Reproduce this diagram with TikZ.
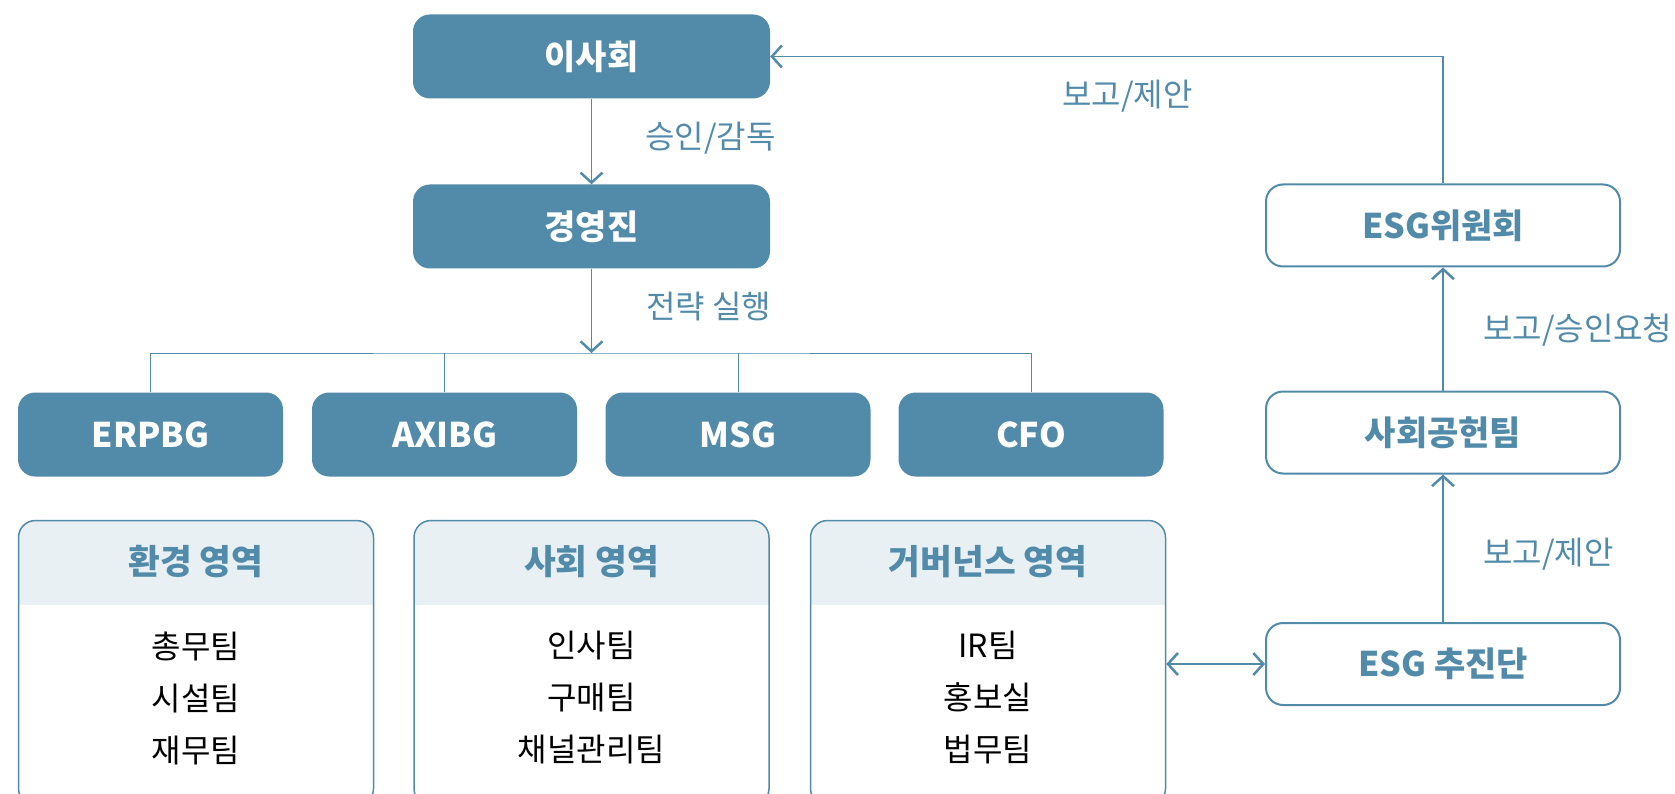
\documentclass[tikz,border=0pt]{standalone}
\usepackage{fontspec}
\setmainfont{Noto Sans CJK KR}
\usetikzlibrary{arrows.meta}
\definecolor{esgblue}{HTML}{528BAA}
\definecolor{esghead}{HTML}{E8F0F4}

\begin{document}
\begin{tikzpicture}[x=1pt, y=-1pt,
    darkbox/.style={rectangle, rounded corners=17pt, fill=esgblue, text=white,
        font=\fontsize{34}{40}\selectfont\bfseries, minimum height=84pt},
    lightbox/.style={rectangle, rounded corners=17pt, draw=esgblue, line width=2pt,
        fill=white, text=esgblue, font=\fontsize{34}{40}\selectfont\bfseries,
        minimum width=354pt, minimum height=82pt},
    areabox/.style={rectangle, rounded corners=17pt, draw=esgblue, line width=1.5pt,
        minimum width=355pt, minimum height=285pt,
        path picture={\fill[esghead, sharp corners] (path picture bounding box.north west)
            rectangle ([yshift=-84pt]path picture bounding box.north east);}},
    areahead/.style={text=esgblue, font=\fontsize{34.5}{40}\selectfont\bfseries},
    teamlist/.style={align=center, font=\fontsize{32}{52}\selectfont},
    flowlabel/.style={anchor=west, inner sep=0pt, text=esgblue,
        font=\fontsize{32}{38}\selectfont},
    line/.style={draw=esgblue, line width=1.5pt},
    >={Straight Barb[length=10pt, width=22pt, line width=2.5pt]}]
    \useasboundingbox (0, 0) rectangle (1675, 794);

    % top of the chain
    \node[darkbox, minimum width=357pt] (board) at (591.5, 56.5) {이사회};
    \node[darkbox, minimum width=357pt] (mgmt) at (591.5, 226.5) {경영진};

    % business units
    \node[darkbox, minimum width=265pt] (erpbg) at (150.5, 434.5) {ERPBG};
    \node[darkbox, minimum width=265pt] (axibg) at (444.5, 434.5) {AXIBG};
    \node[darkbox, minimum width=265pt] (msg) at (738, 434.5) {MSG};
    \node[darkbox, minimum width=265pt] (cfo) at (1031, 434.5) {CFO};

    % areas
    \node[areabox] (env) at (196, 663) {};
    \node[areabox] (soc) at (591.5, 663) {};
    \node[areabox] (gov) at (988, 663) {};
    \node[areahead] (envh) at (196, 562) {환경 영역};
    \node[areahead] (soch) at (591.5, 562) {사회 영역};
    \node[areahead] (govh) at (988, 562) {거버넌스 영역};
    \node[teamlist] (envl) at (196, 698) {총무팀\\시설팀\\재무팀};
    \node[teamlist] (socl) at (591.5, 698) {인사팀\\구매팀\\채널관리팀};
    \node[teamlist] (govl) at (988, 698) {IR팀\\홍보실\\법무팀};

    % ESG side
    \node[lightbox] (esgc) at (1443, 225.5) {ESG위원회};
    \node[lightbox] (csr) at (1443, 432.5) {사회공헌팀};
    \node[lightbox] (esgt) at (1443, 664) {ESG 추진단};

    % labels
    \node[flowlabel] (approve) at (645, 138) {승인/감독};
    \node[flowlabel] (execute) at (646, 306) {전략 실행};
    \node[flowlabel] (reporttop) at (1062, 96) {보고/제안};
    \node[flowlabel] (request) at (1483, 330) {보고/승인요청};
    \node[flowlabel] (report) at (1483, 554) {보고/제안};

    \coordinate (split) at (591.5, 353);

    \draw[line, ->] (board) -- (mgmt);
    \draw[line, ->] (mgmt) -- (split);
    \draw[line, line width=1pt] (erpbg.north) |- (split) -| (cfo.north);
    \draw[line, line width=1pt] (axibg.north) -- (axibg.north |- split);
    \draw[line, line width=1pt] (msg.north) -- (msg.north |- split);

    \draw[line, ->] (esgc.north) |- (board.east);
    \draw[line, ->] (csr) -- (esgc);
    \draw[line, ->] (esgt) -- (csr);
    \draw[line, <->] (gov.east |- esgt.west) -- (esgt.west);
\end{tikzpicture}
\end{document}
